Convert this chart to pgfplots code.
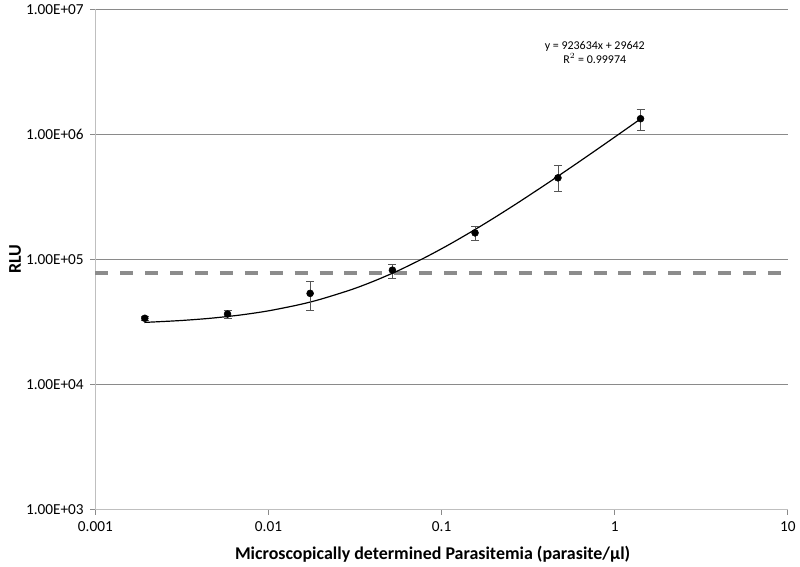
\documentclass[border=0pt]{standalone}
\usepackage{fontspec}
\setmainfont{Carlito}
\usepackage{pgfplots}
\pgfplotsset{compat=1.18}

\definecolor{gridgray}{HTML}{8A8A8A}
\definecolor{axisgray}{HTML}{BFBFBF}
\definecolor{cutoff}{HTML}{8C8C8C}
\definecolor{errgray}{HTML}{555555}

% measured RLU per parasitemia dilution, with error bars
\pgfplotstableread{
x        y        ep      em
0.00193  33900    1500    1500
0.0058   36650    2800    2800
0.0174   53600    13600   14200
0.052    82200    9500    12000
0.156    163300   19900   20800
0.47     450000   111000  102000
1.41     1337000  260000  265000
}\rludata

% linear trendline y = 923634x + 29642, evaluated at fixed x
\pgfplotstableread{
x        y
0.00193  31425
0.002    31489
0.003    32413
0.004    33337
0.005    34260
0.007    36107
0.01     38878
0.015    43497
0.02     48115
0.03     57351
0.04     66587
0.052    77671
0.06     85060
0.08     103533
0.1      122005
0.12     140478
0.156    173729
0.2      214369
0.25     260551
0.3      306732
0.4      399096
0.47     463750
0.6      583822
0.8      768549
1.0      953276
1.2      1138003
1.41     1331966
}\fitdata

\begin{document}
\begin{tikzpicture}
\begin{axis}[
    name=ax,
    scale only axis,
    width=521.25pt, height=376.5pt,
    xmode=log, ymode=log,
    xmin=0.001, xmax=10,
    ymin=1e3, ymax=1e7,
    axis lines=left,
    axis line style={axisgray, line width=1.1pt, -},
    xtick={0.001,0.01,0.1,1,10},
    xticklabels={0.001,0.01,0.1,1,10},
    ytick={1e3,1e4,1e5,1e6,1e7},
    yticklabels={1.00E+03,1.00E+04,1.00E+05,1.00E+06,1.00E+07},
    tick align=outside,
    major tick length=3.75pt,
    tick style={gridgray, line width=0.75pt},
    xminorticks=false, yminorticks=false,
    ymajorgrids,
    grid style={gridgray, line width=0.75pt},
    tick label style={font=\fontsize{11.5}{13}\selectfont},
    yticklabel style={xshift=-1.5pt},
    xticklabel style={yshift=-1.5pt},
    xlabel={Microscopically determined Parasitemia (parasite/µl)},
    ylabel={RLU},
    xlabel style={font=\fontsize{13.5}{16}\selectfont\bfseries,
        at={(axis description cs:0.487,-0.0896)}, anchor=center},
    ylabel style={font=\fontsize{13.5}{16}\selectfont\bfseries,
        at={(axis description cs:-0.116,0.5)}, anchor=center},
    clip=false,
]
% cutoff line
\addplot[cutoff, line width=3pt, dash pattern=on 9.75pt off 9pt]
    coordinates {(0.001,78300) (10,78300)};
% trendline
\addplot[black, line width=0.9pt, smooth] table[x=x, y=y] {\fitdata};
% data with error bars
\addplot[only marks, mark=*, mark size=2.6pt, black,
    error bars/.cd, y dir=both, y explicit,
    error bar style={errgray, line width=0.6pt},
    error mark options={errgray, line width=0.6pt, mark size=3pt, rotate=90}]
    table[x=x, y=y, y error plus=ep, y error minus=em] {\rludata};
\node[align=center, font=\fontsize{9}{10.5}\selectfont]
    at (axis cs:0.767,4.54e6) {y = 923634x + 29642\\R$^2$ = 0.99974};
\end{axis}
\path[use as bounding box] ([xshift=-71.8pt,yshift=-42.75pt]ax.south west)
    rectangle ([xshift=7pt,yshift=3.75pt]ax.north east);
\end{tikzpicture}
\end{document}
